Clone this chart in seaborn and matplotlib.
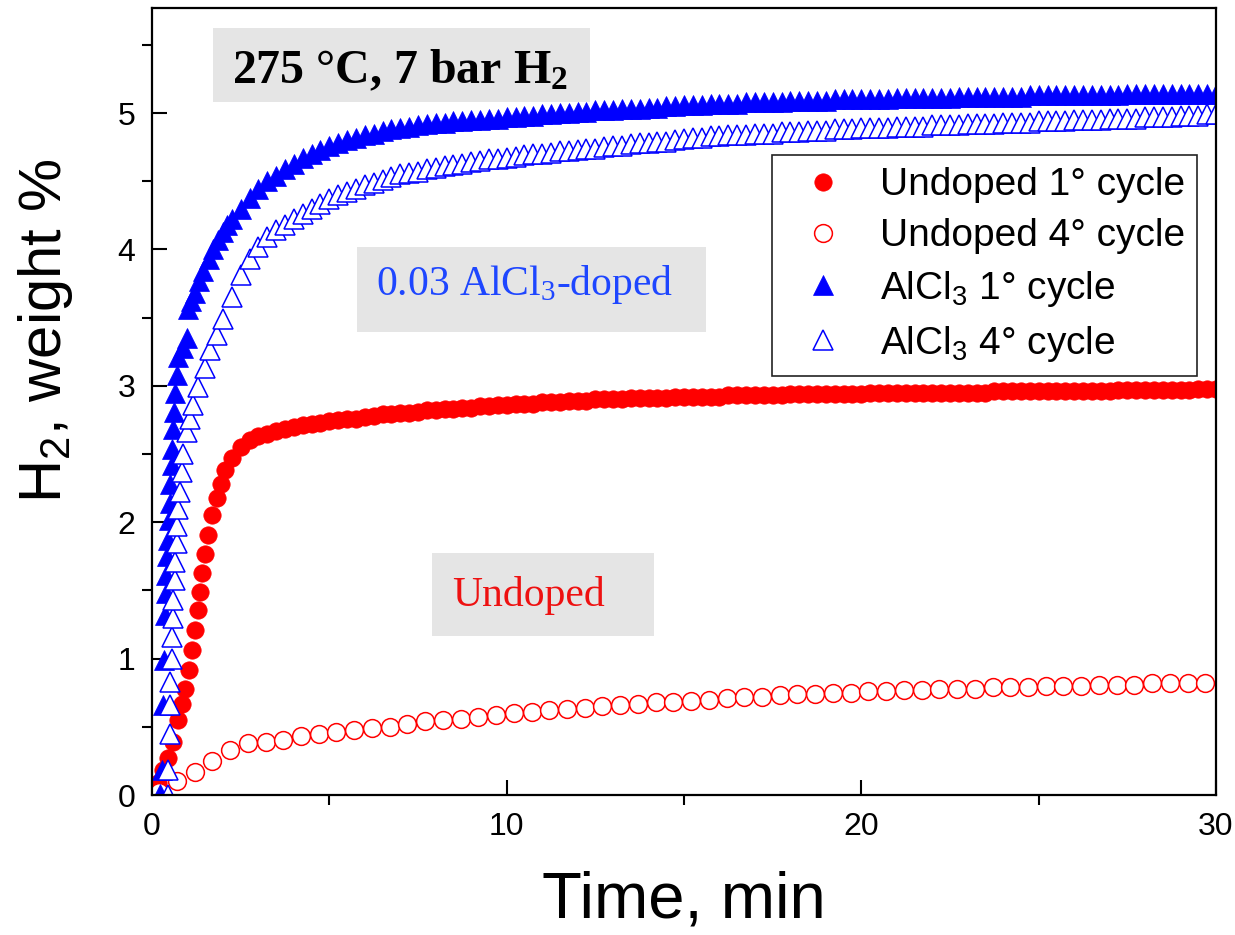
import matplotlib
matplotlib.use("Agg")
import matplotlib.pyplot as plt
from matplotlib.patches import Rectangle
from matplotlib.ticker import MultipleLocator
import seaborn as sns

# ── style ────────────────────────────────────────────────
sns.set_theme(style="ticks")
plt.rcParams.update({
    "font.family": ["Liberation Sans", "DejaVu Sans"],
    "axes.linewidth": 1.6,
    "axes.edgecolor": "black",
    "axes.labelcolor": "black",
    "text.color": "black",
    "xtick.color": "black",
    "ytick.color": "black",
})

RED = "#FF0000"
BLUE = "#0000FF"
BOX_GRAY = "#E5E5E5"

# ── data ─────────────────────────────────────────────────
# common time grid for the dense part of the curves (min)
t_late = [
    2.25, 2.5, 2.75, 3.0, 3.25, 3.5, 3.75, 4.0, 4.25, 4.5, 4.75, 5.0,
    5.25, 5.5, 5.75, 6.0, 6.25, 6.5, 6.75, 7.0, 7.25, 7.5, 7.75, 8.0,
    8.25, 8.5, 8.75, 9.0, 9.25, 9.5, 9.75, 10.0, 10.25, 10.5, 10.75, 11.0,
    11.25, 11.5, 11.75, 12.0, 12.25, 12.5, 12.75, 13.0, 13.25, 13.5, 13.75, 14.0,
    14.25, 14.5, 14.75, 15.0, 15.25, 15.5, 15.75, 16.0, 16.25, 16.5, 16.75, 17.0,
    17.25, 17.5, 17.75, 18.0, 18.25, 18.5, 18.75, 19.0, 19.25, 19.5, 19.75, 20.0,
    20.25, 20.5, 20.75, 21.0, 21.25, 21.5, 21.75, 22.0, 22.25, 22.5, 22.75, 23.0,
    23.25, 23.5, 23.75, 24.0, 24.25, 24.5, 24.75, 25.0, 25.25, 25.5, 25.75, 26.0,
    26.25, 26.5, 26.75, 27.0, 27.25, 27.5, 27.75, 28.0, 28.25, 28.5, 28.75, 29.0,
    29.25, 29.5, 29.75, 30.0,
]

# Undoped, 1st cycle
undoped1_t_early = [0.10, 0.18, 0.32, 0.46, 0.60, 0.74, 0.84, 0.93, 1.04, 1.12,
                    1.21, 1.29, 1.35, 1.42, 1.49, 1.59, 1.68, 1.82, 1.95, 2.06]
undoped1_v_early = [0.03, 0.09, 0.18, 0.27, 0.39, 0.55, 0.67, 0.78, 0.92, 1.06,
                    1.21, 1.36, 1.49, 1.63, 1.77, 1.91, 2.05, 2.18, 2.28, 2.38]
undoped1_v_late = [
    2.47, 2.55, 2.60, 2.63, 2.65, 2.67, 2.68, 2.70, 2.71, 2.72, 2.73, 2.74,
    2.75, 2.76, 2.76, 2.77, 2.78, 2.79, 2.79, 2.80, 2.80, 2.81, 2.82, 2.82,
    2.83, 2.83, 2.84, 2.84, 2.85, 2.85, 2.86, 2.86, 2.87, 2.87, 2.87, 2.88,
    2.88, 2.88, 2.89, 2.89, 2.89, 2.90, 2.90, 2.90, 2.90, 2.91, 2.91, 2.91,
    2.91, 2.91, 2.92, 2.92, 2.92, 2.92, 2.92, 2.92, 2.93, 2.93, 2.93, 2.93,
    2.93, 2.93, 2.93, 2.94, 2.94, 2.94, 2.94, 2.94, 2.94, 2.94, 2.94, 2.94,
    2.95, 2.95, 2.95, 2.95, 2.95, 2.95, 2.95, 2.95, 2.95, 2.95, 2.95, 2.95,
    2.95, 2.95, 2.96, 2.96, 2.96, 2.96, 2.96, 2.96, 2.96, 2.96, 2.96, 2.96,
    2.96, 2.96, 2.96, 2.96, 2.97, 2.97, 2.97, 2.97, 2.97, 2.97, 2.97, 2.97,
    2.97, 2.98, 2.98, 2.98,
]

# Undoped, 4th cycle (one point every half minute)
undoped4_t = [
    0.2, 0.7, 1.2, 1.7, 2.2, 2.7, 3.2, 3.7, 4.2, 4.7,
    5.2, 5.7, 6.2, 6.7, 7.2, 7.7, 8.2, 8.7, 9.2, 9.7,
    10.2, 10.7, 11.2, 11.7, 12.2, 12.7, 13.2, 13.7, 14.2, 14.7,
    15.2, 15.7, 16.2, 16.7, 17.2, 17.7, 18.2, 18.7, 19.2, 19.7,
    20.2, 20.7, 21.2, 21.7, 22.2, 22.7, 23.2, 23.7, 24.2, 24.7,
    25.2, 25.7, 26.2, 26.7, 27.2, 27.7, 28.2, 28.7, 29.2, 29.7,
]
undoped4_v = [
    0.02, 0.10, 0.17, 0.25, 0.33, 0.38, 0.39, 0.40, 0.43, 0.45,
    0.46, 0.48, 0.49, 0.50, 0.52, 0.54, 0.55, 0.56, 0.57, 0.59,
    0.60, 0.61, 0.62, 0.63, 0.64, 0.65, 0.66, 0.67, 0.68, 0.68,
    0.69, 0.70, 0.71, 0.72, 0.72, 0.73, 0.74, 0.74, 0.75, 0.75,
    0.76, 0.76, 0.77, 0.77, 0.78, 0.78, 0.78, 0.79, 0.79, 0.79,
    0.80, 0.80, 0.80, 0.81, 0.81, 0.81, 0.82, 0.82, 0.82, 0.82,
]

# AlCl3-doped, 1st cycle
alcl1_t_early = [0.22, 0.27, 0.30, 0.35, 0.37, 0.39, 0.40, 0.42, 0.44, 0.47,
                 0.50, 0.52, 0.55, 0.57, 0.60, 0.62, 0.65, 0.70, 0.74, 0.86,
                 0.98, 1.02, 1.10, 1.21, 1.33, 1.45, 1.60, 1.73, 1.87, 2.00,
                 2.12]
alcl1_v_early = [0.01, 0.18, 0.66, 0.99, 1.32, 1.48, 1.61, 1.75, 1.87, 2.02,
                 2.14, 2.28, 2.42, 2.54, 2.68, 2.81, 2.95, 3.08, 3.21, 3.28,
                 3.35, 3.56, 3.62, 3.68, 3.77, 3.84, 3.93, 4.00, 4.07, 4.13,
                 4.18]
alcl1_v_late = [
    4.22, 4.30, 4.38, 4.44, 4.50, 4.54, 4.59, 4.63, 4.67, 4.70, 4.73, 4.76,
    4.78, 4.80, 4.82, 4.84, 4.85, 4.87, 4.88, 4.89, 4.90, 4.91, 4.92, 4.93,
    4.93, 4.94, 4.94, 4.95, 4.95, 4.96, 4.96, 4.97, 4.97, 4.98, 4.98, 4.99,
    4.99, 5.00, 5.00, 5.01, 5.01, 5.02, 5.02, 5.02, 5.03, 5.03, 5.03, 5.04,
    5.04, 5.05, 5.05, 5.06, 5.06, 5.06, 5.07, 5.07, 5.07, 5.07, 5.08, 5.08,
    5.08, 5.08, 5.08, 5.09, 5.09, 5.09, 5.09, 5.09, 5.10, 5.10, 5.10, 5.10,
    5.10, 5.10, 5.10, 5.11, 5.11, 5.11, 5.11, 5.11, 5.11, 5.11, 5.12, 5.12,
    5.12, 5.12, 5.12, 5.12, 5.12, 5.12, 5.13, 5.13, 5.13, 5.13, 5.13, 5.13,
    5.13, 5.13, 5.13, 5.13, 5.13, 5.14, 5.14, 5.14, 5.14, 5.14, 5.14, 5.14,
    5.14, 5.14, 5.14, 5.14,
]

# AlCl3-doped, 4th cycle
alcl4_t_early = [0.46, 0.46, 0.51, 0.51, 0.51, 0.56, 0.56, 0.60, 0.60, 0.65,
                 0.65, 0.70, 0.70, 0.74, 0.79, 0.84, 0.88, 0.98, 1.07, 1.16,
                 1.31, 1.49, 1.64, 1.82, 2.01]
alcl4_v_early = [0.00, 0.18, 0.45, 0.66, 0.83, 1.00, 1.16, 1.30, 1.43, 1.58,
                 1.71, 1.85, 1.97, 2.10, 2.22, 2.37, 2.50, 2.66, 2.76, 2.86,
                 2.99, 3.13, 3.26, 3.37, 3.49]
alcl4_v_late = [
    3.65, 3.81, 3.93, 4.02, 4.09, 4.14, 4.18, 4.22, 4.26, 4.30, 4.33, 4.37,
    4.40, 4.42, 4.44, 4.47, 4.49, 4.51, 4.53, 4.55, 4.56, 4.57, 4.59, 4.60,
    4.61, 4.62, 4.63, 4.64, 4.65, 4.66, 4.66, 4.67, 4.68, 4.69, 4.70, 4.70,
    4.71, 4.72, 4.72, 4.73, 4.74, 4.74, 4.75, 4.76, 4.76, 4.77, 4.78, 4.78,
    4.79, 4.79, 4.80, 4.81, 4.82, 4.82, 4.83, 4.83, 4.84, 4.84, 4.84, 4.85,
    4.85, 4.85, 4.86, 4.86, 4.86, 4.87, 4.87, 4.87, 4.88, 4.88, 4.88, 4.89,
    4.89, 4.89, 4.89, 4.90, 4.90, 4.90, 4.90, 4.91, 4.91, 4.91, 4.91, 4.92,
    4.92, 4.92, 4.92, 4.93, 4.93, 4.93, 4.93, 4.94, 4.94, 4.94, 4.94, 4.95,
    4.95, 4.95, 4.95, 4.96, 4.96, 4.96, 4.96, 4.97, 4.97, 4.97, 4.97, 4.98,
    4.98, 4.98, 4.99, 4.99,
]

labels = [
    "Undoped 1° cycle",
    "Undoped 4° cycle",
    r"AlCl$\mathregular{_3}$ 1° cycle",
    r"AlCl$\mathregular{_3}$ 4° cycle",
]

# ── figure ───────────────────────────────────────────────
fig = plt.figure(figsize=(12.35, 9.35), dpi=100)
fig.patch.set_facecolor("white")
ax = fig.add_axes([0.1231, 0.1497, 0.8615, 0.8417])
ax.set_facecolor("white")


def draw(t, v, marker, size, face, edge, label, mew):
    sns.lineplot(x=t, y=v, ax=ax, estimator=None, sort=False,
                 linestyle="none", marker=marker, markersize=size,
                 markerfacecolor=face, markeredgecolor=edge,
                 markeredgewidth=mew, label=label, legend=False)


draw(undoped1_t_early + t_late, undoped1_v_early + undoped1_v_late,
     "o", 12.5, RED, RED, labels[0], 0.5)
draw(undoped4_t, undoped4_v, "o", 12.8, "white", RED, labels[1], 1.1)
draw(alcl1_t_early + t_late, alcl1_v_early + alcl1_v_late,
     "^", 14.5, BLUE, BLUE, labels[2], 0.5)
draw(alcl4_t_early + t_late, alcl4_v_early + alcl4_v_late,
     "^", 14.5, "white", BLUE, labels[3], 1.1)

# ── axes ─────────────────────────────────────────────────
ax.set_xlim(0, 30)
ax.set_ylim(0, 5.77)
ax.xaxis.set_major_locator(MultipleLocator(10))
ax.xaxis.set_minor_locator(MultipleLocator(5))
ax.yaxis.set_major_locator(MultipleLocator(1))
ax.yaxis.set_minor_locator(MultipleLocator(0.5))
ax.tick_params(which="major", direction="in", length=11, width=1.5,
               labelsize=23, pad=12)
ax.tick_params(which="minor", direction="out", length=7, width=1.5)
for side in ["top", "right", "left", "bottom"]:
    ax.spines[side].set_visible(True)
    ax.spines[side].set_linewidth(1.6)

ax.set_xlabel("Time, min", fontsize=47, labelpad=0)
ax.xaxis.set_label_coords(0.5, -0.096)
ax.set_ylabel(r"H$\mathregular{_2}$, weight %", fontsize=43, labelpad=0)
ax.yaxis.set_label_coords(-0.072, 0.59)

# ── annotation boxes ────────────────────────────────────
boxes = [
    # (x0, y0, w, h) in axes fraction
    (0.0573, 0.8806, 0.3544, 0.0940),
    (0.1927, 0.5883, 0.3280, 0.1080),
    (0.2632, 0.2020, 0.2086, 0.1055),
]
for x0, y0, w, h in boxes:
    ax.add_patch(Rectangle((x0, y0), w, h, transform=ax.transAxes,
                           facecolor=BOX_GRAY, edgecolor="none", zorder=0.5))

ax.text(0.2331, 0.9047, r"275 °C, 7 bar H$\mathregular{_2}$",
        transform=ax.transAxes, ha="center", va="baseline",
        fontsize=34.5, fontweight="bold", family="Liberation Serif", zorder=5)
ax.text(0.3506, 0.6353, r"0.03 AlCl$\mathregular{_3}$-doped",
        transform=ax.transAxes, ha="center", va="baseline",
        fontsize=30, color="#1E46FF", family="Liberation Serif", zorder=5)
ax.text(0.3543, 0.2402, "Undoped",
        transform=ax.transAxes, ha="center", va="baseline",
        fontsize=30, color="#EE1111", family="Liberation Serif", zorder=5)

# ── legend ──────────────────────────────────────────────
leg = ax.legend(loc="upper left", bbox_to_anchor=(0.5827, 0.8132),
                borderaxespad=0, frameon=True, fancybox=False,
                edgecolor="#222222", framealpha=1, fontsize=28,
                borderpad=0.32, handlelength=2.0, handletextpad=0.45,
                labelspacing=0.38)
leg.get_frame().set_linewidth(1.2)

fig.savefig("out.png", dpi=100, facecolor="white")
